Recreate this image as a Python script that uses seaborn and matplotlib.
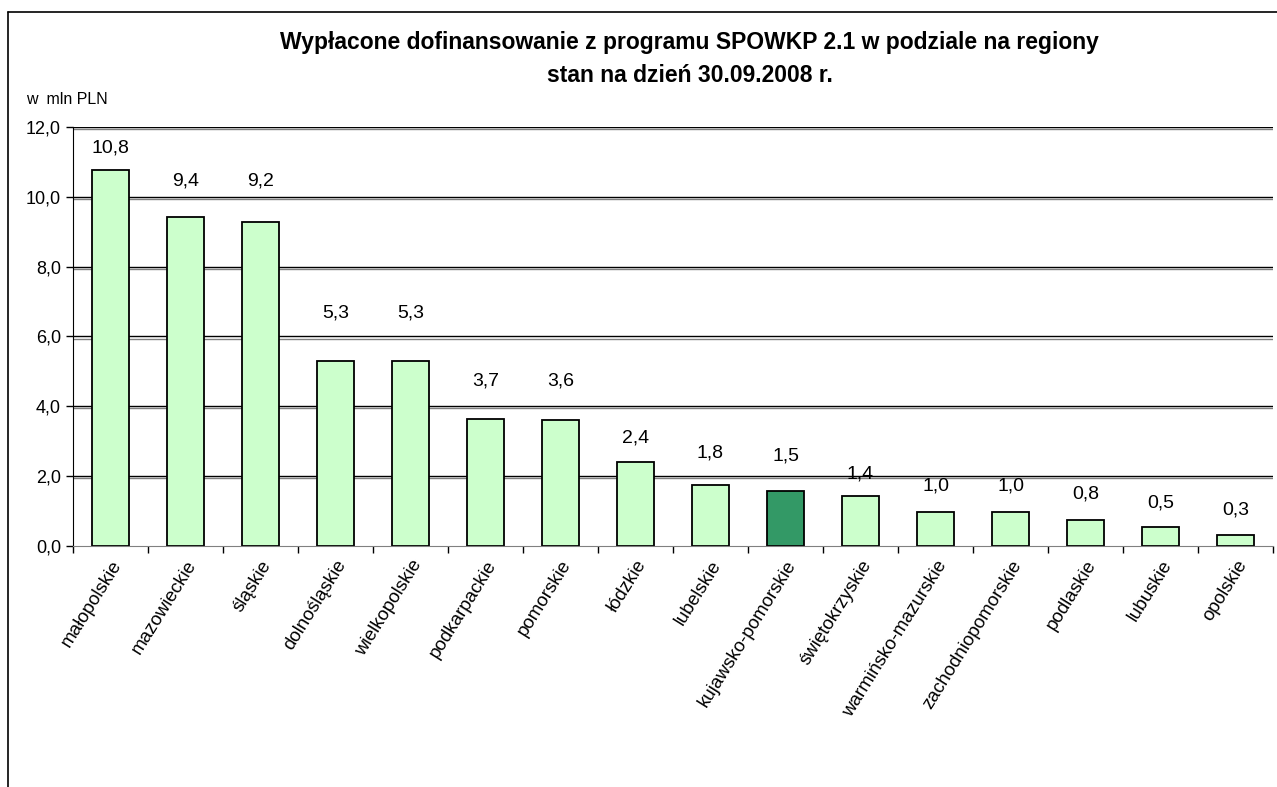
"""Bar chart of SPOWKP 2.1 payouts by region."""

import matplotlib.pyplot as plt
import matplotlib.patheffects as pe
import pandas as pd
import seaborn as sns

regions = [
    "małopolskie", "mazowieckie", "śląskie", "dolnośląskie", "wielkopolskie",
    "podkarpackie", "pomorskie", "łódzkie", "lubelskie", "kujawsko-pomorskie",
    "świętokrzyskie", "warmińsko-mazurskie", "zachodniopomorskie", "podlaskie",
    "lubuskie", "opolskie",
]
values = [10.77, 9.42, 9.27, 5.30, 5.30, 3.65, 3.60, 2.42, 1.75, 1.57,
          1.43, 0.99, 0.99, 0.76, 0.55, 0.33]
value_labels = ["10,8", "9,4", "9,2", "5,3", "5,3", "3,7", "3,6", "2,4", "1,8",
                "1,5", "1,4", "1,0", "1,0", "0,8", "0,5", "0,3"]
highlight = "kujawsko-pomorskie"
y_ticks = [0, 2, 4, 6, 8, 10, 12]

# label placement above each bar (data units), as in the source chart
label_offsets = [0.63, 1.03, 1.18, 1.38, 1.38, 1.07, 1.12, 0.67, 0.91, 1.01,
                 0.63, 0.73, 0.73, 0.73, 0.68, 0.70]

df = pd.DataFrame({"region": regions, "value": values})
palette = {r: ("#339966" if r == highlight else "#CCFFCC") for r in regions}

sns.set_style("white")
plt.rcParams["font.family"] = ["Liberation Sans", "DejaVu Sans"]
plt.rcParams["text.color"] = "black"
plt.rcParams["xtick.color"] = "black"
plt.rcParams["ytick.color"] = "black"

fig = plt.figure(figsize=(12.77, 7.87), dpi=100)
ax = fig.add_axes([0.057, 0.306, 0.940, 0.533])

sns.barplot(data=df, x="region", y="value", hue="region", palette=palette,
            saturation=1, width=0.5, edgecolor="black", linewidth=1.3,
            legend=False, ax=ax)

# Excel-like double grid lines.
for y in y_ticks[1:]:
    ax.axhline(y, color="black", lw=1.0, zorder=0,
               path_effects=[pe.SimpleLineShadow(offset=(0, -1.5), shadow_color="#808080", alpha=1),
                             pe.Normal()])

ax.set_ylim(0, 12)
ax.set_xlim(-0.5, len(regions) - 0.5)
ax.set_yticks(y_ticks)
ax.set_yticklabels([f"{t:.1f}".replace(".", ",") for t in y_ticks], fontsize=13)
ax.set_xticks(range(len(regions)))
ax.set_xticklabels(regions, rotation=58, ha="right", rotation_mode="anchor", fontsize=13.5)
ax.tick_params(axis="x", length=0, pad=8)
ax.tick_params(axis="y", length=5, width=1, color="black", left=True, direction="out")

# tick marks between categories
ax.set_xticks([i - 0.5 for i in range(len(regions) + 1)], minor=True)
ax.tick_params(axis="x", which="minor", length=5, width=1, color="black", bottom=True, direction="out")

ax.set_xlabel("")
ax.set_ylabel("")
for side in ["top", "right"]:
    ax.spines[side].set_visible(False)
ax.spines["left"].set_color("black")
ax.spines["bottom"].set_color("#808080")

for i, (v, lab, off) in enumerate(zip(values, value_labels, label_offsets)):
    ax.text(i, v + off, lab, ha="center", va="center", fontsize=14)

fig.text(0.020, 0.874, "w  mln PLN", fontsize=11.5, ha="left", va="center")
fig.text(0.54, 0.946, "Wypłacone dofinansowanie z programu SPOWKP 2.1 w podziale na regiony",
         fontsize=16.5, fontweight="bold", ha="center", va="center")
fig.text(0.54, 0.904, "stan na dzień 30.09.2008 r.",
         fontsize=16.5, fontweight="bold", ha="center", va="center")

# chart border (left and top visible in the reference)
fig.add_artist(plt.Line2D([0.0065, 0.0065], [0, 0.985], color="black", lw=1.2, transform=fig.transFigure))
fig.add_artist(plt.Line2D([0.0065, 1.0], [0.985, 0.985], color="black", lw=1.2, transform=fig.transFigure))

fig.savefig("out.png", dpi=100, facecolor="white")
plt.close(fig)
